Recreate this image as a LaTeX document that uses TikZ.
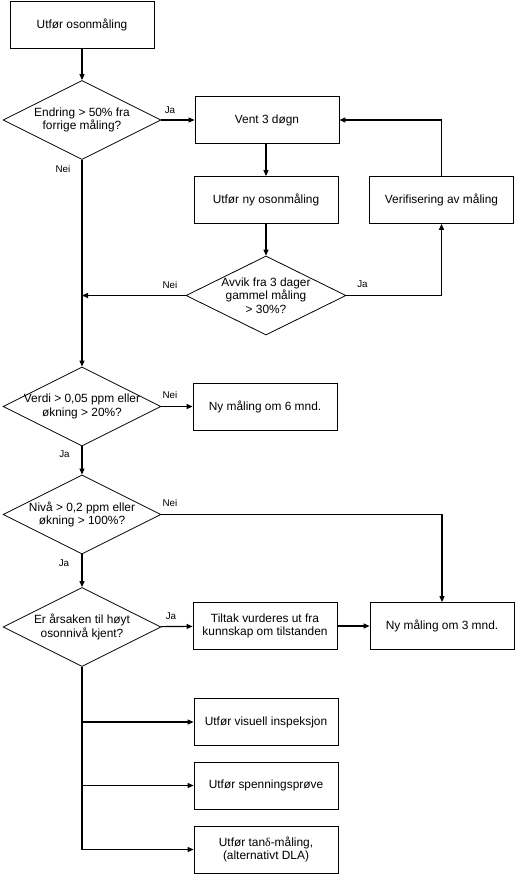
\documentclass[tikz,border=0pt]{standalone}
\usepackage{fontspec}
\setmainfont{Liberation Sans}
\newfontfamily\symfont{Liberation Serif}
\usetikzlibrary{arrows.meta,shapes.geometric}

\begin{document}
\begin{tikzpicture}[
      x=10pt,
      y=10pt,
      font=\fontsize{11.9}{13.3}\selectfont,
      box/.style={draw, line width=0.8pt, align=center, minimum width=144pt, minimum height=47pt, inner sep=2pt},
      decision/.style={diamond, draw, line width=0.8pt, minimum width=158pt, minimum height=79pt, inner sep=0pt},
      qtext/.style={align=center, inner sep=0pt},
      lbl/.style={font=\fontsize{9.8}{11}\selectfont, inner sep=0pt},
      arrow/.style={-{Triangle[length=6pt,width=5pt]}, line width=1.1pt},
      line/.style={line width=1.1pt}
  ]
  \useasboundingbox (0,0) rectangle (51.6,-87.6);
  % Columns: 8.2 (main), 26.6, 44.2
  % Rows follow the questions down the left column

  % --- First measurement and check ---
  \node[box] (start) at (8.2,-2.45) {Utfør osonmåling};
  \node[decision, label={[qtext]center:Endring > 50\% fra\\forrige måling?}] (q1) at (8.2,-12.0) {};

  % --- Re-measure loop ---
  \node[box] (wait)    at (26.7,-12.0) {Vent 3 døgn};
  \node[box] (newmeas) at (26.6,-20.0) {Utfør ny osonmåling};
  \node[box] (verify)  at (44.15,-20.0) {Verifisering av måling};
  \node[decision, minimum width=160pt, label={[qtext]center:Avvik fra 3 dager\\gammel måling\\> 30\%?}] (q2) at (26.6,-29.55) {};
  \coordinate (merge) at (8.2,-29.55);

  % --- Level checks ---
  \node[decision, label={[qtext]center:Verdi > 0,05 ppm eller\\økning > 20\%?}] (q3) at (8.2,-40.65) {};
  \node[box] (six) at (26.5,-40.65) {Ny måling om 6 mnd.};

  \node[decision, label={[qtext]center:Nivå > 0,2 ppm eller\\økning > 100\%?}] (q4) at (8.2,-51.45) {};

  \node[decision, label={[qtext]center:Er årsaken til høyt\\osonnivå kjent?}] (q5) at (8.2,-62.7) {};
  \node[box] (action) at (26.5,-62.6) {Tiltak vurderes ut fra\\kunnskap om tilstanden};
  \node[box] (three)  at (44.2,-62.6) {Ny måling om 3 mnd.};

  % --- Further tests ---
  \node[box] (visual) at (26.6,-72.2)  {Utfør visuell inspeksjon};
  \node[box] (volt)   at (26.6,-78.55) {Utfør spenningsprøve};
  \node[box] (tand)   at (26.6,-84.95) {Utfør tan{\symfont δ}-måling,\\(alternativt DLA)};

  % --- Ja / Nei labels ---
  \node[lbl] (ja1)  at (17.0,-11.0) {Ja};
  \node[lbl] (nei1) at (6.3,-16.9)  {Nei};
  \node[lbl] (nei2) at (17.0,-28.45) {Nei};
  \node[lbl] (ja2)  at (36.25,-28.45) {Ja};
  \node[lbl] (nei3) at (17.0,-39.5) {Nei};
  \node[lbl] (ja3)  at (6.45,-45.4) {Ja};
  \node[lbl] (nei4) at (17.0,-50.3) {Nei};
  \node[lbl] (ja4)  at (6.4,-56.3)  {Ja};
  \node[lbl] (ja5)  at (17.1,-61.6) {Ja};

  % --- Arrows ---
  \draw[arrow] (start) -- (q1);
  \draw[arrow] (q1) -- (wait);
  \draw[arrow] (wait.south -| newmeas) -- (newmeas);
  \draw[arrow] (newmeas) -- (q2);
  \draw[arrow] (q2) -- (merge);
  \draw[arrow] (q2.east) -| (verify.south);
  \draw[arrow] (verify.north) |- (wait.east);

  \draw[arrow] (q1) -- (q3);
  \draw[arrow] (q3) -- (six);
  \draw[arrow] (q3) -- (q4);
  \draw[arrow] (q4.east) -| (three.north);
  \draw[arrow] (q4) -- (q5);
  \draw[arrow] (q5) -- (action);
  \draw[arrow] (action) -- (three);

  % Branches to the further tests
  \draw[arrow] (q5.south) |- (visual.west);
  \draw[arrow] (q5.south) |- (volt.west);
  \draw[arrow] (q5.south) |- (tand.west);

  \end{tikzpicture}
\end{document}
